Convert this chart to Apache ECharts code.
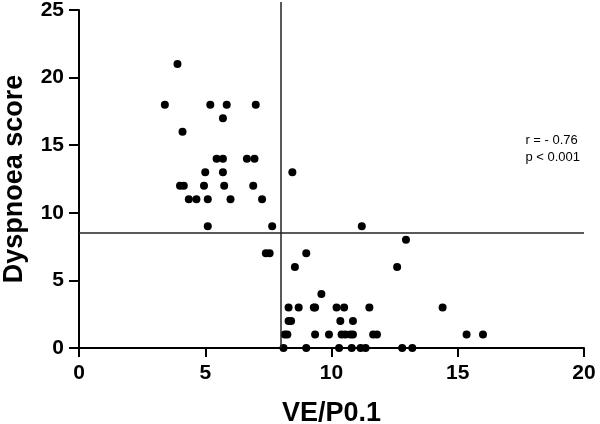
<!DOCTYPE html>
<html lang="en">
   <head>
      <title>Dyspnoea vs VE/P0.1</title>
      <meta charset="utf-8">
      <script type="text/javascript" src="https://cdn.jsdelivr.net/npm/echarts@6/dist/echarts.min.js"></script>
   </head>
   <body style="margin:0; background:#fff;">
      <div id="chart" style="width:600px;height:424px;"></div>

      <script type="text/javascript">
         // VE/P0.1 values and matching dyspnoea scores
         let veP01 = [
             3.9, 3.4, 5.2, 5.85, 7.0, 5.7, 4.1, 5.45, 5.7, 6.65, 6.95, 5.0, 5.7, 8.45,
             4.0, 4.15, 4.95, 5.75, 6.9, 4.35, 4.65, 5.1, 6.0, 7.25, 5.1, 7.65, 7.4, 7.55,
             11.2, 12.95, 9.0, 8.55, 12.6, 9.6,
             8.3, 8.7, 9.3, 9.35, 10.2, 10.5, 11.5, 14.4,
             8.3, 8.4, 10.35, 10.85,
             8.15, 8.25, 9.35, 9.9, 10.4, 10.55, 10.75, 10.85, 11.65, 11.8, 15.35, 16.0,
             8.1, 9.0, 10.3, 10.8, 11.15, 11.35, 12.8, 13.2
         ];
         let dyspnoea = [
             21, 18, 18, 18, 18, 17, 16, 14, 14, 14, 14, 13, 13, 13,
             12, 12, 12, 12, 12, 11, 11, 11, 11, 11, 9, 9, 7, 7,
             9, 8, 7, 6, 6, 4,
             3, 3, 3, 3, 3, 3, 3, 3,
             2, 2, 2, 2,
             1, 1, 1, 1, 1, 1, 1, 1, 1, 1, 1, 1,
             0, 0, 0, 0, 0, 0, 0, 0
         ];
         let xTicks = [0, 5, 10, 15, 20];
         let yTicks = [0, 5, 10, 15, 20, 25];
         let cutX = 8;      // vertical cut-off
         let cutY = 8.5;    // horizontal cut-off
         let statLines = ['r = - 0.76', 'p < 0.001'];

         let points = veP01.map(function (v, i) {
             return [v, dyspnoea[i]];
         });

         let font = 'Liberation Sans, Arial, sans-serif';
         let myChart = echarts.init(document.getElementById('chart'));

         let option = {
             animation: false,
             grid: [
                 { left: 79, right: 16, top: 10, bottom: 76, outerBoundsMode: 'none' },
                 // taller twin grid: the vertical cut-off line runs above the 25 tick
                 { left: 79, right: 16, top: 2, bottom: 76, outerBoundsMode: 'none' }
             ],
             xAxis: [{
                 type: 'value',
                 min: xTicks[0],
                 max: xTicks[xTicks.length - 1],
                 interval: 5,
                 name: 'VE/P0.1',
                 nameLocation: 'middle',
                 nameGap: 52,
                 nameTextStyle: { fontFamily: font, fontWeight: 'bold', fontSize: 27, color: '#000' },
                 axisLine: { lineStyle: { color: '#000', width: 2 } },
                 axisTick: { length: 9, lineStyle: { color: '#000', width: 2 } },
                 axisLabel: { fontFamily: font, fontWeight: 'bold', fontSize: 21, color: '#000', margin: 15 },
                 splitLine: { show: false }
             }, {
                 type: 'value',
                 gridIndex: 1,
                 min: xTicks[0],
                 max: xTicks[xTicks.length - 1],
                 show: false
             }],
             yAxis: [{
                 type: 'value',
                 min: yTicks[0],
                 max: yTicks[yTicks.length - 1],
                 interval: 5,
                 name: 'Dyspnoea score',
                 nameLocation: 'middle',
                 nameGap: 51,
                 nameTextStyle: { fontFamily: font, fontWeight: 'bold', fontSize: 27, color: '#000' },
                 axisLine: { show: true, lineStyle: { color: '#000', width: 2 } },
                 axisTick: { show: true, length: 10, lineStyle: { color: '#000', width: 2 } },
                 axisLabel: { fontFamily: font, fontWeight: 'bold', fontSize: 21, color: '#000', margin: 15 },
                 splitLine: { show: false }
             }, {
                 type: 'value',
                 gridIndex: 1,
                 min: 0,
                 max: 1,
                 show: false
             }],
             graphic: [{
                 type: 'text',
                 right: 20,
                 top: 132,
                 style: {
                     text: statLines.join('\n'),
                     font: '13px ' + font,
                     lineHeight: 17,
                     fill: '#000'
                 }
             }],
             series: [{
                 type: 'scatter',
                 data: points,
                 symbolSize: 8,
                 itemStyle: { color: '#000', opacity: 1 },
                 markLine: {
                     silent: true,
                     symbol: 'none',
                     label: { show: false },
                     lineStyle: { color: '#222', width: 1.5, type: 'solid' },
                     data: [{ yAxis: cutY }]
                 }
             }, {
                 type: 'scatter',
                 xAxisIndex: 1,
                 yAxisIndex: 1,
                 data: [],
                 markLine: {
                     silent: true,
                     symbol: 'none',
                     label: { show: false },
                     lineStyle: { color: '#222', width: 1.5, type: 'solid' },
                     data: [{ xAxis: cutX }]
                 }
             }]
         };

         myChart.setOption(option);
      </script>
   </body>
</html>
